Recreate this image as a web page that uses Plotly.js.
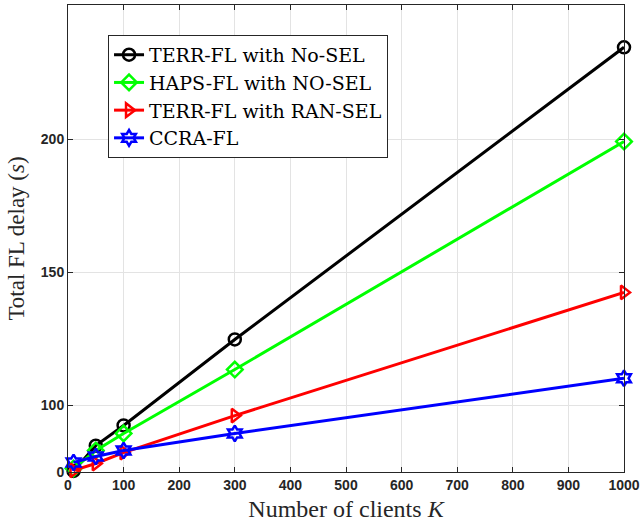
<!DOCTYPE html>
<html>
<head>
<meta charset="utf-8">
<script src="https://cdn.plot.ly/plotly-3.0.1.min.js"></script>
<style>html,body{margin:0;padding:0;background:#fff;}#chart{width:640px;height:525px;}</style>
</head>
<body>
<div id="chart"></div>
<script>
const clients = [10, 50, 100, 300, 1000];
const terrNoSel = [75.4, 84.9, 92.5, 124.8, 234.6];
const hapsNoSel = [76.3, 83.1, 89.5, 113.5, 199.2];
const terrRanSel = [75.6, 78.2, 82.3, 96.2, 142.5];
const ccraFl = [78.6, 80.8, 83.1, 89.5, 110.2];
const seriesNames = ['TERR-FL with No-SEL', 'HAPS-FL with NO-SEL', 'TERR-FL with RAN-SEL', 'CCRA-FL'];
const yTickVals = [75, 100, 150, 200];
const yTickText = ['0', '100', '150', '200'];
const xTickVals = [0, 100, 200, 300, 400, 500, 600, 700, 800, 900, 1000];

const colors = ['#000000', '#00ff00', '#ff0000', '#0000ff'];
const symbols = ['circle-open', 'diamond-open', 'triangle-right-open', 'hexagram-open'];
const sizes = [12, 12, 12, 12];
const ys = [terrNoSel, hapsNoSel, terrRanSel, ccraFl];

const traces = ys.map((y, i) => ({
  x: clients, y: y, name: seriesNames[i], type: 'scatter', mode: 'lines+markers',
  line: {color: colors[i], width: 3},
  marker: {symbol: symbols[i], size: sizes[i], color: colors[i], line: {color: colors[i], width: 2.5}},
  cliponaxis: false
}));

const serif = 'Liberation Serif, Times New Roman, serif';
const axisCommon = {
  showline: true, linecolor: '#262626', linewidth: 1, mirror: 'ticks',
  ticks: 'inside', ticklen: 5, tickcolor: '#262626',
  showgrid: true, gridcolor: '#e3e3e3', gridwidth: 1, zeroline: false,
  ticklabeloverflow: 'allow',
  tickfont: {family: 'Liberation Sans, Arial, sans-serif', size: 14, color: '#262626', weight: 'bold'}
};

const layout = {
  width: 640, height: 525,
  margin: {l: 68, r: 16, t: 5, b: 53},
  paper_bgcolor: '#ffffff', plot_bgcolor: '#ffffff',
  showlegend: true,
  legend: {
    x: 0.072, y: 0.936, xanchor: 'left', yanchor: 'top',
    bgcolor: '#ffffff', bordercolor: '#262626', borderwidth: 1,
    font: {family: 'DejaVu Serif, serif', size: 19, color: '#000'},
    tracegroupgap: 0, itemwidth: 30
  },
  xaxis: Object.assign({}, axisCommon, {
    range: [0, 1000], tickvals: xTickVals,
    title: {text: 'Number of clients <i>K</i>', font: {family: serif, size: 24, color: '#262626'}, standoff: 8}
  }),
  yaxis: Object.assign({}, axisCommon, {
    range: [75, 250.5], tickvals: yTickVals, ticktext: yTickText,
    title: {text: 'Total FL delay (<i>s</i>)', font: {family: serif, size: 23, color: '#262626'}, standoff: 9}
  })
};

Plotly.newPlot('chart', traces, layout, {displayModeBar: false, staticPlot: true});
</script>
</body>
</html>
